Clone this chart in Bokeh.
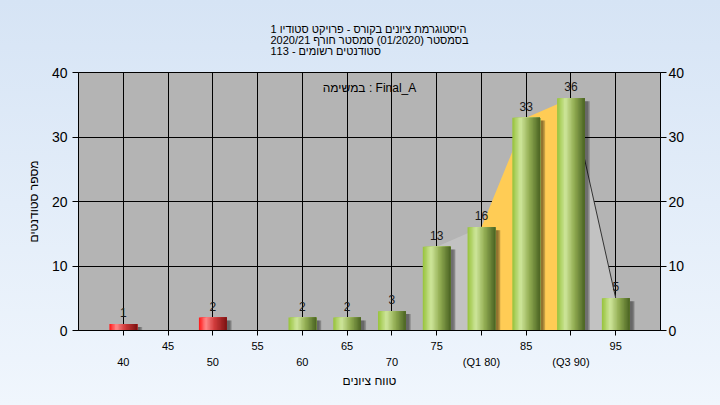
from bokeh.plotting import figure
from bokeh.models import Range1d, FixedTicker, LinearAxis, Label, ColumnDataSource, Title
from bokeh.embed import file_html
from bokeh.resources import INLINE
from bokeh.core.properties import value

# ---------------- data ----------------
grade_bins = [40, 45, 50, 55, 60, 65, 70, 75, 80, 85, 90, 95]
student_counts = [1, 0, 2, 0, 2, 2, 3, 13, 16, 33, 36, 5]
pass_grade = 55
q1_bin = 80
q3_bin = 90
area_start = 75
y_ticks = [0, 10, 20, 30, 40]
row1_labels = {45: "45", 55: "55", 65: "65", 75: "75", 85: "85", 95: "95"}
row2_labels = {40: "40", 50: "50", 60: "60", 70: "70", 80: "(Q1 80)", 90: "(Q3 90)"}
title_lines = [
    "היסטוגרמת ציונים בקורס - פרויקט סטודיו 1",
    "בסמסטר (01/2020) סמסטר חורף 2020/21",
    "סטודנטים רשומים - 113",
]
legend_text = "במשימה : Final_A"
x_title = "טווח ציונים"
y_title = "מספר סטודנטים"

FONT = "Liberation Sans"


def hex2rgb(h):
    h = h.lstrip("#")
    return tuple(int(h[i:i + 2], 16) for i in (0, 2, 4))


def grad(stops, t):
    for (p0, c0), (p1, c1) in zip(stops, stops[1:]):
        if p0 <= t <= p1:
            f = (t - p0) / (p1 - p0)
            a, b = hex2rgb(c0), hex2rgb(c1)
            return "#%02x%02x%02x" % tuple(int(round(a[i] + (b[i] - a[i]) * f)) for i in range(3))
    return stops[-1][1]


green_stops = [(0.0, "#96c23a"), (0.3, "#cfe69c"), (0.6, "#95b055"), (1.0, "#4a6322")]
red_stops = [(0.0, "#ff1414"), (0.25, "#ff8a8a"), (0.55, "#d23c3c"), (1.0, "#7c1212")]

p = figure(width=720, height=405, x_range=Range1d(35, 100), y_range=Range1d(0, 40),
           output_backend="svg", toolbar_location=None,
           min_border_left=78, min_border_right=60, min_border_top=72, min_border_bottom=75,
           background_fill_color="#b4b4b4", border_fill_color=None,
           outline_line_color="black", outline_line_width=1,
           styles={"background": "linear-gradient(#d6e4f5, #f0f6fd)"})

# ---- area behind bars ----
ax_gray1 = [x for x in grade_bins if area_start <= x <= q1_bin]
ay_gray1 = [c for x, c in zip(grade_bins, student_counts) if area_start <= x <= q1_bin]
ax_yel = [x for x in grade_bins if q1_bin <= x <= q3_bin]
ay_yel = [c for x, c in zip(grade_bins, student_counts) if q1_bin <= x <= q3_bin]
ax_gray2 = [x for x in grade_bins if x >= q3_bin]
ay_gray2 = [c for x, c in zip(grade_bins, student_counts) if x >= q3_bin]
p.varea(x=ax_gray1, y1=[0] * len(ax_gray1), y2=ay_gray1, fill_color="#c2c2c2")
p.varea(x=ax_gray2, y1=[0] * len(ax_gray2), y2=ay_gray2, fill_color="#c2c2c2")
p.varea(x=ax_yel, y1=[0] * len(ax_yel), y2=ay_yel, fill_color="#ffcc55")
p.line(x=ax_gray2, y=ay_gray2, line_color="#333333", line_width=1)

# ---- bars (shadow + gradient strips) ----
bw = 3.1
N = 20
sx, stop_ = [], []
bx, bwid, btop, bcol = [], [], [], []
for x, c in zip(grade_bins, student_counts):
    if c <= 0:
        continue
    stops = red_stops if x < pass_grade else green_stops
    right = x + bw / 2
    for k in range(N):
        left = x - bw / 2 + k * bw / N
        bx.append((left + right) / 2)
        bwid.append(right - left)
        btop.append(c)
        bcol.append(grad(stops, (k + 0.5) / N))
    sx.append(x)
    stop_.append(c)

for off, w, a in [(0.35, bw, 0.18), (0.5, bw, 0.18), (0.65, bw * 0.95, 0.14)]:
    p.vbar(x=[v + off for v in sx], top=[t - 0.45 for t in stop_], bottom=0, width=w,
           fill_color="black", fill_alpha=a, line_color=None)

p.vbar(x=bx, top=btop, bottom=0, width=bwid, fill_color=bcol, line_color=None)

# ---- value labels ----
lab_src = ColumnDataSource(dict(
    x=[x for x, c in zip(grade_bins, student_counts) if c > 0],
    y=[c for c in student_counts if c > 0],
    t=[str(c) for c in student_counts if c > 0]))
p.text(x="x", y="y", text="t", source=lab_src, text_align="center", text_baseline="bottom",
       y_offset=-7, text_font=value(FONT), text_font_size="12px", text_color="#1a1a1a")

# ---- grids ----
p.xgrid.ticker = FixedTicker(ticks=grade_bins)
p.ygrid.ticker = FixedTicker(ticks=y_ticks)
for g in (p.xgrid[0], p.ygrid[0]):
    g.grid_line_color = "black"
    g.grid_line_width = 1

# ---- axes ----
xa = p.xaxis[0]
xa.ticker = FixedTicker(ticks=grade_bins)
xa.major_label_overrides = {x: row1_labels.get(x, "") for x in grade_bins}
xa.major_tick_out = 5
xa.major_tick_in = 0
xa.minor_tick_line_color = None
xa.major_label_standoff = 6
xa.major_label_text_font = FONT
xa.major_label_text_font_size = "11px"
xa.major_label_text_color = "black"
xa.axis_line_color = "black"

xa2 = LinearAxis(ticker=FixedTicker(ticks=list(row2_labels.keys())),
                 major_label_overrides=row2_labels,
                 axis_line_color=None, major_tick_line_color=None, minor_tick_line_color=None,
                 major_label_standoff=-3, major_label_text_font=FONT,
                 major_label_text_font_size="11px", major_label_text_color="black",
                 axis_label=x_title, axis_label_standoff=3,
                 axis_label_text_font=FONT, axis_label_text_font_size="12px",
                 axis_label_text_font_style="normal", axis_label_text_color="black")
p.add_layout(xa2, "below")

ya = p.yaxis[0]
ya.ticker = FixedTicker(ticks=y_ticks)
ya.major_tick_out = 6
ya.major_tick_in = 0
ya.minor_tick_line_color = None
ya.major_label_standoff = 5
ya.major_label_text_font = FONT
ya.major_label_text_font_size = "14px"
ya.major_label_text_color = "black"
ya.axis_label = y_title
ya.axis_label_standoff = 8
ya.axis_label_text_font = FONT
ya.axis_label_text_font_size = "12px"
ya.axis_label_text_font_style = "normal"
ya.axis_label_text_color = "black"

ya2 = LinearAxis(ticker=FixedTicker(ticks=y_ticks), major_tick_out=6, major_tick_in=0,
                 minor_tick_line_color=None, major_label_standoff=2,
                 major_label_text_font=FONT, major_label_text_font_size="14px",
                 major_label_text_color="black", axis_line_color="black")
p.add_layout(ya2, "right")

# ---- title block ----
p.add_layout(Title(text="\n".join(title_lines), align="center", offset=-9, standoff=30,
                   text_line_height=0.92,
                   text_font=FONT, text_font_size="11px", text_font_style="normal",
                   text_color="black"), "above")

p.add_layout(Label(x=67.5, y=40, y_offset=-15, text=legend_text, text_align="center",
                   text_baseline="middle", text_font=FONT, text_font_size="12px",
                   text_color="black"))

open("out.html", "w").write(file_html(p, INLINE))
